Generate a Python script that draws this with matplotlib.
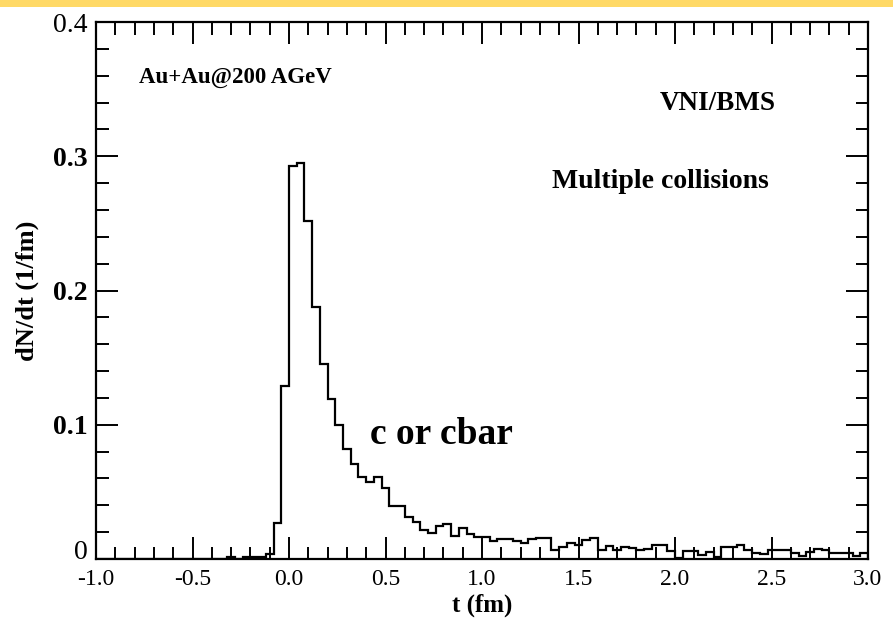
import matplotlib
matplotlib.use("Agg")
import matplotlib.pyplot as plt
from matplotlib.ticker import MultipleLocator, FixedLocator, FixedFormatter
from matplotlib.patches import Rectangle
import numpy as np

# ---- data ----
bin_edges = np.round(np.linspace(-1.0, 3.0, 101), 2)
dndt = [
    0, 0, 0, 0, 0, 0, 0, 0, 0, 0,
    0, 0, 0, 0, 0, 0, 0, 0.0015, 0, 0.0015,
    0.0015, 0.0015, 0.004, 0.027, 0.129, 0.293, 0.295, 0.252, 0.188, 0.145,
    0.119, 0.100, 0.082, 0.071, 0.061, 0.057, 0.061, 0.0526, 0.0395, 0.0395,
    0.0315, 0.0278, 0.0216, 0.0196, 0.0246, 0.0261, 0.0171, 0.0228, 0.0186, 0.0166,
    0.0166, 0.0134, 0.0146, 0.0146, 0.0134, 0.0122, 0.0146, 0.0154, 0.0154, 0.0067,
    0.0087, 0.0121, 0.0104, 0.0141, 0.0154, 0.0067, 0.0097, 0.0067, 0.0087, 0.008,
    0.0067, 0.0077, 0.0104, 0.0104, 0.0062, 0.0005, 0.0062, 0.0062, 0.003, 0.0052,
    0.0015, 0.0087, 0.0087, 0.0104, 0.0067, 0.0047, 0.0037, 0.0067, 0.0067, 0.0067,
    0.0047, 0.0022, 0.0052, 0.0077, 0.0067, 0.0047, 0.0047, 0.0047, 0.0022, 0.0042,
]
xtick_vals = [-1.0, -0.5, 0.0, 0.5, 1.0, 1.5, 2.0, 2.5, 3.0]
xtick_labels = ["-1.0", "-0.5", "0.0", "0.5", "1.0", "1.5", "2.0", "2.5", "3.0"]
ytick_vals = [0.0, 0.1, 0.2, 0.3, 0.4]
ytick_labels = ["0", "0.1", "0.2", "0.3", "0.4"]

serif = ["Liberation Serif", "DejaVu Serif"]
plt.rcParams["font.family"] = serif

fig = plt.figure(figsize=(8.93, 6.27), dpi=100)
fig.patches.append(Rectangle((0, 1 - 7 / 627), 1, 7 / 627, transform=fig.transFigure,
                             facecolor="#FFD966", edgecolor="none", zorder=0))
ax = fig.add_axes([96 / 893, 1 - 559 / 627, (868 - 96) / 893, (559 - 22) / 627])

ax.stairs(dndt, bin_edges, color="black", linewidth=1.6, baseline=0)

ax.set_xlim(-1.0, 3.0)
ax.set_ylim(0, 0.4)

ax.xaxis.set_major_locator(FixedLocator(xtick_vals))
ax.xaxis.set_major_formatter(FixedFormatter(xtick_labels))
ax.xaxis.set_minor_locator(MultipleLocator(0.1))
ax.yaxis.set_major_locator(FixedLocator(ytick_vals))
ax.yaxis.set_major_formatter(FixedFormatter(ytick_labels))
ax.yaxis.set_minor_locator(MultipleLocator(0.02))

ax.tick_params(which="both", direction="in", top=True, right=True, width=1.4,
               colors="black")
ax.tick_params(which="major", length=16)
ax.tick_params(which="minor", length=9)
ax.tick_params(axis="x", which="major", labelsize=17, pad=7)
ax.tick_params(axis="y", which="major", labelsize=20, pad=6)
for s in ax.spines.values():
    s.set_linewidth(1.6)
for lbl in ax.get_yticklabels():
    if lbl.get_text() in ("0.1", "0.2", "0.3"):
        lbl.set_fontweight("bold")
    if lbl.get_text() == "0":
        lbl.set_verticalalignment("baseline")

ax.set_xlabel("t (fm)", fontsize=18, fontweight="bold")
ax.xaxis.set_label_coords(0.5, -0.064)
ax.set_ylabel("dN/dt (1/fm)", fontsize=19, fontweight="bold")
ax.yaxis.set_label_coords(-0.074, 0.5)

ax.text(-0.28, 0.3590, "Au+Au@200 AGeV", fontsize=16.5, fontweight="bold",
        ha="center", va="center")
ax.text(2.22, 0.339, "VNI/BMS", fontsize=19.5, fontweight="bold",
        ha="center", va="center")
ax.text(1.925, 0.281, "Multiple collisions", fontsize=20, fontweight="bold",
        ha="center", va="center")
ax.text(0.788, 0.093, "c or cbar", fontsize=27, fontweight="bold",
        ha="center", va="center")

fig.savefig("out.png", dpi=100)
